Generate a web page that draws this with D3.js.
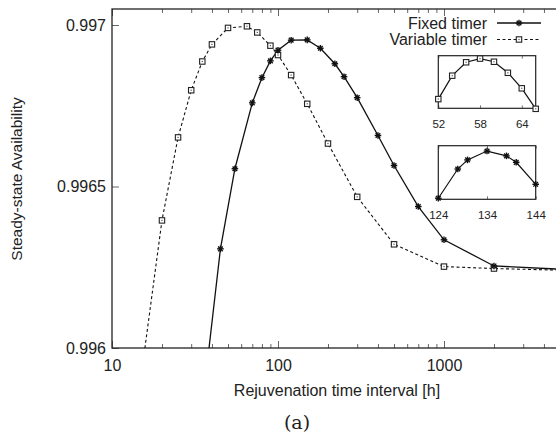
<!DOCTYPE html>
<html>
<head>
<meta charset="utf-8">
<script src="https://cdn.jsdelivr.net/npm/d3@7"></script>
<style>
  body { margin: 0; background: #fff; }
  text { font-family: "Liberation Sans", Arial, sans-serif; fill: #222; }
</style>
</head>
<body>
<svg id="chart" width="556" height="432"></svg>
<script>
// main curves (x = rejuvenation interval in hours)
var fixedX = [35, 45, 55, 70, 80, 90, 100, 120, 150, 180, 220, 250, 300, 400, 500, 700, 1000, 2000, 5000];
var fixedY = [0.99582, 0.996307, 0.996555, 0.996759, 0.996837, 0.996889, 0.996922, 0.996953, 0.996954,
  0.996928, 0.99688, 0.99684, 0.996775, 0.996658, 0.996565, 0.996438, 0.996335, 0.996254, 0.996244];
var variableX = [15, 20, 25, 30, 35, 40, 50, 65, 75, 90, 100, 120, 150, 200, 300, 500, 1000, 2000, 5000];
var variableY = [0.995915, 0.996395, 0.996652, 0.996798, 0.996887, 0.99694, 0.996991, 0.996996, 0.996977,
  0.996936, 0.996907, 0.996845, 0.996756, 0.996633, 0.996468, 0.996321, 0.996252, 0.996246, 0.996241];

// zoomed insets
var insetVarX = [52, 54, 56, 58, 60, 62, 64, 66];
var insetVarY = [0.9969835, 0.9969924, 0.9969975, 0.9969989, 0.9969977, 0.9969935, 0.9969876, 0.9969798];
var insetFixX = [124, 128, 130, 134, 138, 140, 144];
var insetFixY = [0.9969404, 0.9969513, 0.9969547, 0.996958, 0.9969562, 0.9969538, 0.9969456];

var xTicks = [10, 100, 1000];
var yTicks = [0.996, 0.9965, 0.997];
var insetVarTicks = [52, 58, 64];
var insetFixTicks = [124, 134, 144];

var svg = d3.select("#chart");

// NB: "top" is taken by window.top, so use other names
var pLeft = 112, pRight = 610, pTop = 9, pBottom = 348;

var x = d3.scaleLog().domain([10, 10000]).range([pLeft, pRight]);
var y = d3.scaleLinear().domain([0.996, 0.997]).range([pBottom, 25]);

function zip(xs, ys) {
  return xs.map(function (v, i) { return [v, ys[i]]; });
}

// markers
function star(g, pts, sx, sy) {
  var s = 3.3;
  pts.forEach(function (p) {
    var cx = sx(p[0]), cy = sy(p[1]);
    var m = g.append("g").attr("transform", "translate(" + cx + "," + cy + ")");
    [0, 45, 90, 135].forEach(function (a) {
      var r = a * Math.PI / 180;
      m.append("line")
        .attr("x1", -s * Math.cos(r)).attr("y1", -s * Math.sin(r))
        .attr("x2", s * Math.cos(r)).attr("y2", s * Math.sin(r))
        .attr("stroke", "#111").attr("stroke-width", 1.4);
    });
  });
}
function square(g, pts, sx, sy) {
  pts.forEach(function (p) {
    var cx = sx(p[0]), cy = sy(p[1]);
    g.append("rect")
      .attr("x", cx - 2.7).attr("y", cy - 2.7)
      .attr("width", 5.4).attr("height", 5.4)
      .attr("fill", "#fff").attr("stroke", "#222").attr("stroke-width", 1.1);
    g.append("rect")
      .attr("x", cx - 0.6).attr("y", cy - 0.6)
      .attr("width", 1.2).attr("height", 1.2)
      .attr("fill", "#555");
  });
}

svg.append("clipPath").attr("id", "plotclip")
  .append("rect").attr("x", pLeft).attr("y", pTop)
  .attr("width", pRight - pLeft).attr("height", pBottom - pTop);

// minor ticks for log axis
var minor = [];
[10, 100, 1000].forEach(function (d) {
  for (var k = 2; k <= 9; k++) minor.push(d * k);
});

var gx = svg.append("g").attr("transform", "translate(0," + pBottom + ")")
  .call(d3.axisBottom(x).tickValues(xTicks).tickFormat(d3.format("d"))
    .tickSizeInner(-7).tickSizeOuter(0).tickPadding(12));
var gxMinor = svg.append("g").attr("transform", "translate(0," + pBottom + ")")
  .call(d3.axisBottom(x).tickValues(minor).tickFormat("").tickSizeInner(-4).tickSizeOuter(0));
var gxTop = svg.append("g").attr("transform", "translate(0," + pTop + ")")
  .call(d3.axisTop(x).tickValues(xTicks).tickFormat("").tickSizeInner(-7).tickSizeOuter(0));
var gxTopMinor = svg.append("g").attr("transform", "translate(0," + pTop + ")")
  .call(d3.axisTop(x).tickValues(minor).tickFormat("").tickSizeInner(-4).tickSizeOuter(0));
var gy = svg.append("g").attr("transform", "translate(" + pLeft + ",0)")
  .call(d3.axisLeft(y).tickValues(yTicks).tickFormat(function (d) { return String(+d.toFixed(4)); })
    .tickSizeInner(-7).tickSizeOuter(0).tickPadding(6));

[gx, gxMinor, gxTop, gxTopMinor, gy].forEach(function (g) {
  g.select(".domain").remove();
  g.selectAll(".tick line").attr("stroke", "#666").attr("stroke-width", 1);
  g.selectAll("text").attr("font-size", 16).attr("font-family", "Liberation Sans, Arial, sans-serif").attr("fill", "#222");
});

// frame
svg.append("rect")
  .attr("x", pLeft).attr("y", pTop)
  .attr("width", pRight - pLeft).attr("height", pBottom - pTop)
  .attr("fill", "none").attr("stroke", "#222").attr("stroke-width", 1.3);

var line = d3.line().x(function (d) { return x(d[0]); }).y(function (d) { return y(d[1]); });

var plot = svg.append("g").attr("clip-path", "url(#plotclip)");
plot.append("path").datum(zip(variableX, variableY))
  .attr("d", line).attr("fill", "none").attr("stroke", "#111")
  .attr("stroke-width", 1.1).attr("stroke-dasharray", "3,2.5");
plot.append("path").datum(zip(fixedX, fixedY))
  .attr("d", line).attr("fill", "none").attr("stroke", "#111").attr("stroke-width", 1.3);
square(plot, zip(variableX, variableY), x, y);
star(plot, zip(fixedX, fixedY), x, y);

// axis titles
svg.append("text").attr("x", 337).attr("y", 390).attr("dy", "0.35em")
  .attr("text-anchor", "middle").attr("font-size", 16)
  .text("Rejuvenation time interval [h]");
svg.append("text")
  .attr("transform", "translate(17,179) rotate(-90)")
  .attr("dy", "0.35em").attr("text-anchor", "middle").attr("font-size", 15.5)
  .text("Steady-state Availability");
svg.append("text").attr("x", 297).attr("y", 422).attr("dy", "0.35em")
  .attr("text-anchor", "middle").attr("font-size", 19)
  .style("font-family", "'DejaVu Serif', 'Liberation Serif', serif")
  .text("(a)");

// legend
var legend = svg.append("g");
var legendRows = [
  { name: "Fixed timer", y: 23, dash: null, mark: star },
  { name: "Variable timer", y: 39.5, dash: "3,2.5", mark: square }
];
legendRows.forEach(function (r) {
  legend.append("text").attr("x", 487).attr("y", r.y).attr("dy", "0.35em")
    .attr("text-anchor", "end").attr("font-size", 16).text(r.name);
  legend.append("line").attr("x1", 497).attr("x2", 541).attr("y1", r.y).attr("y2", r.y)
    .attr("stroke", "#111").attr("stroke-width", r.dash ? 1.1 : 1.3)
    .attr("stroke-dasharray", r.dash);
  r.mark(legend, [[519, r.y]], function (v) { return v; }, function (v) { return v; });
});

// insets
function inset(xs, ys, ticks, box, mark, yDomain) {
  var ix = d3.scaleLinear().domain([ticks[0], xs[xs.length - 1]]).range([box.x0, box.x1]);
  var iy = d3.scaleLinear().domain(yDomain).range([box.y1, box.y0]);
  var g = svg.append("g");
  g.append("rect").attr("x", box.x0).attr("y", box.y0)
    .attr("width", box.x1 - box.x0).attr("height", box.y1 - box.y0)
    .attr("fill", "#fff").attr("stroke", "none");
  var b = g.append("g").attr("transform", "translate(0," + box.y1 + ")")
    .call(d3.axisBottom(ix).tickValues(ticks).tickSizeInner(-3).tickSizeOuter(0).tickPadding(12));
  var t = g.append("g").attr("transform", "translate(0," + box.y0 + ")")
    .call(d3.axisTop(ix).tickValues(ticks).tickFormat("").tickSizeInner(-3).tickSizeOuter(0));
  [b, t].forEach(function (a) {
    a.select(".domain").remove();
    a.selectAll(".tick line").attr("stroke", "#777");
    a.selectAll("text").attr("font-size", 11.5).attr("font-family", "Liberation Sans, Arial, sans-serif").attr("fill", "#222");
  });
  g.append("rect").attr("x", box.x0).attr("y", box.y0)
    .attr("width", box.x1 - box.x0).attr("height", box.y1 - box.y0)
    .attr("fill", "none").attr("stroke", "#222").attr("stroke-width", 1.2);
  var l = d3.line().x(function (d) { return ix(d[0]); }).y(function (d) { return iy(d[1]); });
  g.append("path").datum(zip(xs, ys)).attr("d", l)
    .attr("fill", "none").attr("stroke", "#111").attr("stroke-width", 1.2);
  mark(g, zip(xs, ys), ix, iy);
}

inset(insetVarX, insetVarY, insetVarTicks, { x0: 438.3, x1: 535.7, y0: 55.7, y1: 108.3 }, square, [0.99698, 0.997]);
inset(insetFixX, insetFixY, insetFixTicks, { x0: 438.3, x1: 535.7, y0: 145.7, y1: 199.3 }, star, [0.99694, 0.99696]);
</script>
</body>
</html>
